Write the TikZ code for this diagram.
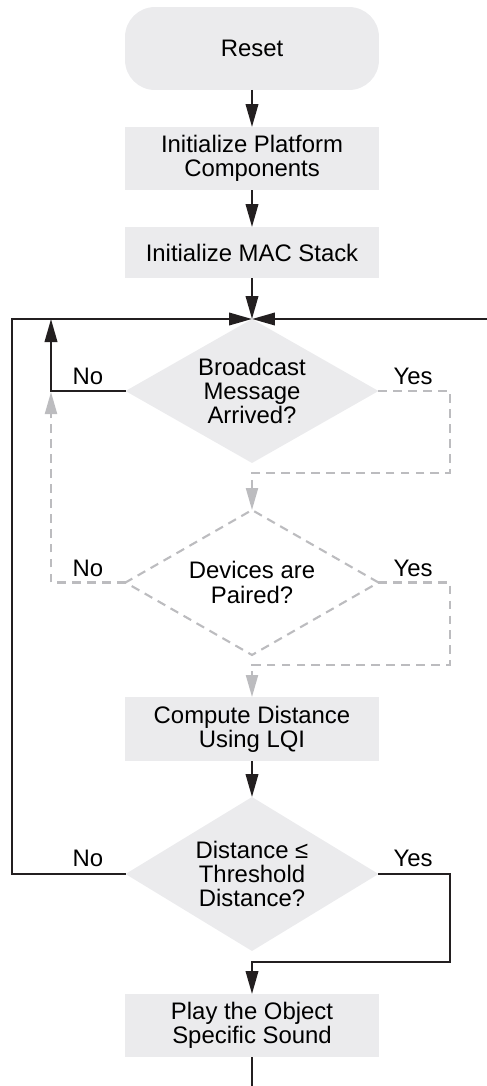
\documentclass[tikz,border=0pt]{standalone}
\usepackage{fontspec}
\setmainfont{Liberation Sans}
\usetikzlibrary{shapes.geometric,arrows.meta}
\definecolor{boxgray}{RGB}{235,235,237}
\definecolor{dashgray}{RGB}{188,188,191}
\definecolor{linegray}{RGB}{35,31,32}

\begin{document}
\begin{tikzpicture}[x=0.02cm,y=-0.02cm,font=\fontsize{13.6}{13.8}\selectfont,
box/.style={fill=boxgray,minimum width=5.08cm,align=center,inner sep=0pt,outer sep=0pt},
decision/.style={diamond,shape aspect=1.75,minimum width=5.06cm,align=center,inner sep=0pt,outer sep=0pt},
flow/.style={draw=linegray,line width=1.2pt},
arr/.style={flow,-{Triangle[length=4.6mm,width=2.5mm]}},
ghost/.style={draw=dashgray,line width=1.2pt,dash pattern=on 5pt off 3.5pt},
ghostarr/.style={ghost,-{Triangle[length=4.4mm,width=2.4mm,fill=dashgray]}}]
\useasboundingbox (0,0) rectangle (487,1086);

\node[box,minimum height=1.66cm,rounded corners=0.6cm] (reset) at (252,48.5) {Reset};
\node[box,minimum height=1.26cm] (platform) at (252,158.5) {Initialize Platform\\Components};
\node[box,minimum height=1.02cm] (mac) at (252,252.5) {Initialize MAC Stack};

\node[decision,fill=boxgray,minimum height=2.88cm] (broadcast) at (252,391)
  {Broadcast\\Message\\Arrived?};
\node[decision,ghost,minimum height=2.9cm] (paired) at (252,582.5)
  {Devices are\\Paired?};
\node[box,minimum height=1.28cm] (compute) at (252,729) {Compute Distance\\Using LQI};
\node[decision,fill=boxgray,shape aspect=1.64,minimum height=3.08cm] (threshold) at (252,874)
  {Distance ≤\\Threshold\\Distance?};
\node[box,minimum height=1.26cm] (play) at (252,1025.5) {Play the Object\\Specific Sound};

% loop corners
\coordinate (join) at (252,319);
\coordinate (loopleft) at (12,319);
\coordinate (loopright) at (487,319);
\coordinate (noup) at (51,319);
\coordinate (ghostup) at (51,392);
\coordinate (yes1) at (450,473);
\coordinate (yes2) at (450,665);
\coordinate (yes3) at (450,962);
\coordinate (out) at (252,1086);

\draw[arr] (reset) -- (platform);
\draw[arr] (platform) -- (mac);
\draw[arr] (mac) -- (join);
\draw[arr] (threshold.west) -| (loopleft) -- (join);
\draw[arr] (loopright) -- (join);
\draw[arr] (broadcast.west) -| (noup);

\draw[ghostarr] (broadcast.east) -| (yes1) -| (paired.north);
\draw[ghostarr] (paired.west) -| (ghostup);
\draw[ghostarr] (paired.east) -| (yes2) -| (compute.north);

\draw[arr] (compute) -- (threshold.north);
\draw[arr] (threshold.east) -| (yes3) -| (play.north);
\draw[flow] (play) -- (out);

\node (no1) at (88,376) {No};
\node (yesa) at (413,376) {Yes};
\node (no2) at (88,568) {No};
\node (yesb) at (413,568) {Yes};
\node (no3) at (88,858) {No};
\node (yesc) at (413,858) {Yes};
\end{tikzpicture}
\end{document}
